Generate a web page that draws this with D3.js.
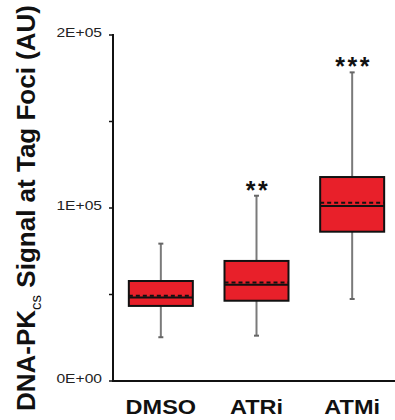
<!DOCTYPE html>
<html>
<head>
<meta charset="utf-8">
<script src="https://cdn.jsdelivr.net/npm/d3@7"></script>
<style>
body { margin: 0; background: #fff; }
text { font-family: "Liberation Sans", Arial, sans-serif; }
</style>
</head>
<body>
<script>
// box plot values
var groups = ["DMSO", "ATRi", "ATMi"];
var whiskerLow = [25300, 26200, 47400];
var q1 = [43400, 46400, 86300];
var median = [48200, 55700, 101200];
var mean = [49300, 57000, 103100];
var q3 = [57800, 69400, 117900];
var whiskerHigh = [79400, 107100, 178400];
var stars = ["", "**", "***"];
var tickVals = [0, 100000, 200000];
var tickLabels = ["0E+00", "1E+05", "2E+05"];
var minorTicks = [50000, 150000];

var w = 395, h = 420;
var axisX = 113, axisBottom = 381;
var boxW = 64;

var svg = d3.select("body").append("svg").attr("width", w).attr("height", h);

var x = d3.scalePoint().domain(groups).range([axisX, 400]).padding(0.5);
var y = d3.scaleLinear().domain([0, 200000]).range([axisBottom, 35]);

var data = groups.map(function(g, i) {
    return {g: g, lo: whiskerLow[i], q1: q1[i], med: median[i], mean: mean[i], q3: q3[i], hi: whiskerHigh[i], star: stars[i]};
});

// axes
svg.append("line")
.attr("x1", axisX).attr("x2", axisX)
.attr("y1", y(200000) - 1).attr("y2", axisBottom + 1)
.attr("stroke", "#111").attr("stroke-width", 2);
svg.append("line")
.attr("x1", axisX - 1).attr("x2", w)
.attr("y1", axisBottom).attr("y2", axisBottom)
.attr("stroke", "#111").attr("stroke-width", 2);

svg.selectAll(".tick").data(tickVals.concat(minorTicks)).enter().append("line")
.attr("x1", axisX - 4).attr("x2", axisX)
.attr("y1", function(d){ return y(d); })
.attr("y2", function(d){ return y(d); })
.attr("stroke", "#111").attr("stroke-width", 1.5);

// tick labels, stretched sideways like the original
svg.selectAll(".tlab").data(tickVals).enter().append("text")
.text(function(d, i){ return tickLabels[i]; })
.attr("transform", function(d){ return "translate(102," + (y(d) + 2) + ") scale(1.25,1)"; })
.attr("text-anchor", "end")
.attr("font-size", "12.5px")
.attr("fill", "#222");

// whiskers
var wh = svg.selectAll(".wh").data(data).enter().append("g");
wh.append("line")
.attr("x1", function(d){ return x(d.g); }).attr("x2", function(d){ return x(d.g); })
.attr("y1", function(d){ return y(d.hi); }).attr("y2", function(d){ return y(d.lo); })
.attr("stroke", "#7a7a7a").attr("stroke-width", 2);
wh.append("line")
.attr("x1", function(d){ return x(d.g) - 2.5; }).attr("x2", function(d){ return x(d.g) + 2.5; })
.attr("y1", function(d){ return y(d.hi); }).attr("y2", function(d){ return y(d.hi); })
.attr("stroke", "#666").attr("stroke-width", 2);
wh.append("line")
.attr("x1", function(d){ return x(d.g) - 2.5; }).attr("x2", function(d){ return x(d.g) + 2.5; })
.attr("y1", function(d){ return y(d.lo); }).attr("y2", function(d){ return y(d.lo); })
.attr("stroke", "#666").attr("stroke-width", 2);

// boxes
svg.selectAll(".box").data(data).enter().append("rect")
.attr("x", function(d){ return x(d.g) - boxW / 2; })
.attr("y", function(d){ return y(d.q3); })
.attr("width", boxW)
.attr("height", function(d){ return y(d.q1) - y(d.q3); })
.attr("fill", "#e8202a")
.attr("stroke", "#111").attr("stroke-width", 2);

svg.selectAll(".med").data(data).enter().append("line")
.attr("x1", function(d){ return x(d.g) - boxW / 2; }).attr("x2", function(d){ return x(d.g) + boxW / 2; })
.attr("y1", function(d){ return y(d.med); }).attr("y2", function(d){ return y(d.med); })
.attr("stroke", "#111").attr("stroke-width", 2);

svg.selectAll(".mean").data(data).enter().append("line")
.attr("x1", function(d){ return x(d.g) - boxW / 2; }).attr("x2", function(d){ return x(d.g) + boxW / 2; })
.attr("y1", function(d){ return y(d.mean); }).attr("y2", function(d){ return y(d.mean); })
.attr("stroke", "#111").attr("stroke-width", 2)
.attr("stroke-dasharray", "4,3");

// significance stars
svg.selectAll(".star").data(data).enter().append("text")
.text(function(d){ return d.star; })
.attr("x", function(d){ return x(d.g) + 1.5; })
.attr("y", function(d){ return y(d.hi) + 3; })
.attr("text-anchor", "middle")
.attr("font-size", "25px")
.attr("font-weight", "bold")
.attr("letter-spacing", "2.5px")
.attr("fill", "#111");

// category labels
svg.selectAll(".cat").data(groups).enter().append("text")
.text(function(d){ return d; })
.attr("transform", function(d){ return "translate(" + x(d) + ",414) scale(1.12,1)"; })
.attr("text-anchor", "middle")
.attr("font-size", "21px")
.attr("font-weight", "bold")
.attr("fill", "#111");

// y title
var title = svg.append("text")
.attr("transform", "translate(35,208) rotate(-90)")
.attr("text-anchor", "middle")
.attr("font-size", "26px")
.attr("font-weight", "bold")
.attr("fill", "#111");
title.append("tspan").text("DNA-PK");
title.append("tspan").text("cs").attr("font-size", "15px").attr("font-weight", "normal").attr("dy", 6);
title.append("tspan").text(" Signal at Tag Foci (AU)").attr("dy", -6);
</script>
</body>
</html>
